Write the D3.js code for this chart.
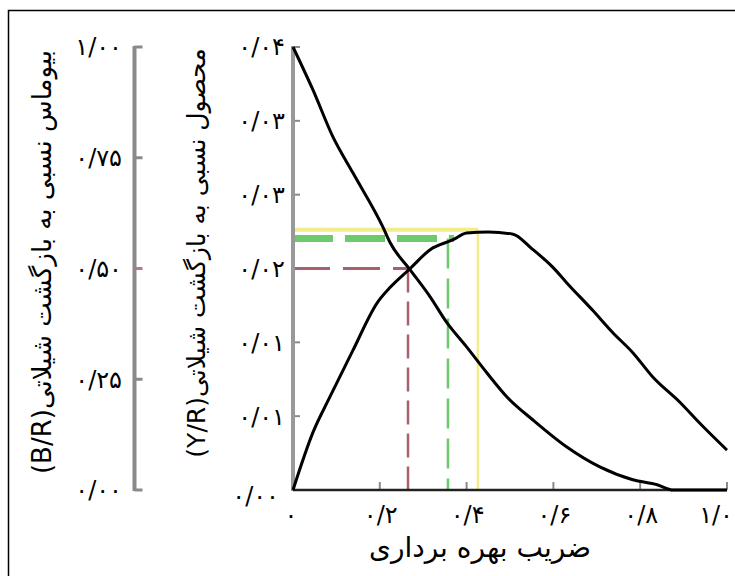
<!DOCTYPE html>
<html>
<head>
<meta charset="utf-8">
<script src="https://cdn.jsdelivr.net/npm/d3@7"></script>
<style>
    body { margin: 0; background: #fff; }
    svg { display: block; }
</style>
</head>
<body>
<svg id="chart"></svg>
<script>
// relative yield curve (Y/R), right axis
const yrX = [0, 0.046, 0.085, 0.138, 0.194, 0.224, 0.27, 0.316, 0.369, 0.40, 0.45, 0.507, 0.55, 0.599, 0.631, 0.691, 0.737, 0.783, 0.829, 0.892, 0.938, 1.0];
const yrY = [0, 0.0052, 0.0084, 0.0126, 0.0169, 0.0183, 0.0200, 0.0217, 0.0226, 0.0232, 0.0233, 0.0231, 0.0218, 0.0201, 0.0187, 0.0162, 0.0142, 0.0124, 0.0102, 0.0079, 0.0060, 0.0036];

// relative biomass curve (B/R), left axis
const brX = [0, 0.046, 0.092, 0.138, 0.207, 0.224, 0.270, 0.316, 0.355, 0.40, 0.447, 0.493, 0.553, 0.631, 0.707, 0.783, 0.839, 0.876, 1.0];
const brY = [1.0, 0.903, 0.797, 0.716, 0.594, 0.558, 0.497, 0.436, 0.377, 0.323, 0.264, 0.210, 0.158, 0.097, 0.052, 0.023, 0.012, 0.0, 0.0];

// reference guides (exploitation rate, Y/R)
const guideNames = ["red", "green", "yellow"];
const guideX = [0.265, 0.357, 0.426];
const guideY = [0.020, 0.0227, 0.0235];

// tick labels
const leftTicks = [0, 0.25, 0.5, 0.75, 1];
const leftLabels = ["۰/۰۰", "۰/۲۵", "۰/۵۰", "۰/۷۵", "۱/۰۰"];
const rightTicks = [0, 1, 2, 3, 4, 5, 6].map(i => 0.04 * i / 6);
const rightLabels = ["۰/۰۰", "۰/۰۱", "۰/۰۱", "۰/۰۲", "۰/۰۳", "۰/۰۳", "۰/۰۴"];
const xTicks = [0, 0.2, 0.4, 0.6, 0.8, 1.0];
const xLabels = ["۰", "۰/۲", "۰/۴", "۰/۶", "۰/۸", "۱/۰"];

const xTitle = "ضریب بهره برداری";
const leftTitle = "بیوماس نسبی به بازگشت شیلاتی(B/R)";
const rightTitle = "محصول نسبی به بازگشت شیلاتی(Y/R)";

const width = 735;
const height = 576;
const fontFam = "'DejaVu Sans', sans-serif";

const svg = d3.select("#chart")
    .attr("width", width)
    .attr("height", height)
    .attr("font-family", fontFam);

const x = d3.scaleLinear().domain([0, 1]).range([293, 727]);
const yR = d3.scaleLinear().domain([0, 0.04]).range([490, 47]);
const yB = d3.scaleLinear().domain([0, 1]).range([490, 47]);

// frame
svg.append("rect")
    .attr("x", 8.5).attr("y", 10.5)
    .attr("width", 740).attr("height", 580)
    .attr("fill", "none")
    .attr("stroke", "#000")
    .attr("stroke-width", 1.5);

// left axis (B/R)
const leftX = 134.5;
svg.append("line")
    .attr("x1", leftX).attr("x2", leftX)
    .attr("y1", yB(1) - 1).attr("y2", yB(0) + 1)
    .attr("stroke", "#8a8a8a").attr("stroke-width", 4);

svg.selectAll(".ltick")
    .data(leftTicks)
    .enter().append("line")
    .attr("x1", leftX).attr("x2", leftX + 8)
    .attr("y1", d => yB(d)).attr("y2", d => yB(d))
    .attr("stroke", d => d === 0.5 ? "#b77a86" : "#8a8a8a")
    .attr("stroke-width", 3);

svg.selectAll(".llabel")
    .data(leftTicks)
    .enter().append("text")
    .attr("x", 122)
    .attr("y", d => yB(d))
    .attr("dy", "0.35em")
    .attr("text-anchor", "end")
    .attr("direction", "ltr")
    .attr("font-size", 24)
    .attr("letter-spacing", 6)
    .text((d, i) => leftLabels[i]);

// right axis (Y/R)
const rightX = 293;
svg.selectAll(".rtick")
    .data(rightTicks)
    .enter().append("line")
    .attr("x1", rightX).attr("x2", rightX + 7)
    .attr("y1", d => yR(d)).attr("y2", d => yR(d))
    .attr("stroke", "#8a8a8a")
    .attr("stroke-width", 2);

svg.selectAll(".rlabel")
    .data(rightTicks)
    .enter().append("text")
    .attr("x", (d, i) => i === 0 ? 279 : 285)
    .attr("y", (d, i) => yR(d) + (i === 0 ? 6 : 0))
    .attr("dy", "0.35em")
    .attr("text-anchor", "end")
    .attr("direction", "ltr")
    .attr("font-size", 24)
    .attr("letter-spacing", 6)
    .text((d, i) => rightLabels[i]);

// x axis
svg.selectAll(".xtick")
    .data(xTicks.slice(1))
    .enter().append("line")
    .attr("x1", d => x(d)).attr("x2", d => x(d))
    .attr("y1", yR(0)).attr("y2", yR(0) - 8)
    .attr("stroke", "#8a8a8a")
    .attr("stroke-width", 2);

svg.selectAll(".xlabel")
    .data(xTicks)
    .enter().append("text")
    .attr("x", (d, i) => i === 0 ? 291 : i === xTicks.length - 1 ? 733 : x(d) + 1)
    .attr("y", 523)
    .attr("text-anchor", (d, i) => i === xTicks.length - 1 ? "end" : "middle")
    .attr("direction", "ltr")
    .attr("font-size", 24)
    .attr("letter-spacing", (d, i) => i === xTicks.length - 1 ? 3 : 5)
    .text((d, i) => xLabels[i]);

// guides
const guideColor = {red: "#a8606c", green: "#6cc96c", yellow: "#f1ec8c"};
const guideHW = {red: 3, green: 7, yellow: 4};
const guideHDash = {red: "37,13", green: "40,12", yellow: null};
const guideVDash = {red: "24,9", green: "30,10", yellow: null};

guideNames.forEach((g, i) => {
    svg.append("line")
        .attr("x1", x(0)).attr("x2", x(guideX[i]) + (g === "green" ? 6 : 0))
        .attr("y1", yR(guideY[i])).attr("y2", yR(guideY[i]))
        .attr("stroke", guideColor[g])
        .attr("stroke-width", guideHW[g])
        .attr("stroke-dasharray", guideHDash[g]);
    svg.append("line")
        .attr("x1", x(guideX[i])).attr("x2", x(guideX[i]))
        .attr("y1", yR(guideY[i])).attr("y2", yR(0))
        .attr("stroke", guideColor[g])
        .attr("stroke-width", 2.5)
        .attr("stroke-dasharray", guideVDash[g]);
});

// right axis line on top of guides
svg.append("line")
    .attr("x1", rightX).attr("x2", rightX)
    .attr("y1", yR(0.04) - 1).attr("y2", yR(0) + 1)
    .attr("stroke", "#999").attr("stroke-width", 4);

// x axis line
svg.append("line")
    .attr("x1", x(0)).attr("x2", x(1))
    .attr("y1", yR(0)).attr("y2", yR(0))
    .attr("stroke", "#222").attr("stroke-width", 2.5);

// curves
const lineYR = d3.line()
    .x((d, i) => x(yrX[i]))
    .y(d => yR(d))
    .curve(d3.curveMonotoneX);

const lineBR = d3.line()
    .x((d, i) => x(brX[i]))
    .y(d => yB(d))
    .curve(d3.curveMonotoneX);

svg.append("path")
    .attr("d", lineYR(yrY))
    .attr("fill", "none")
    .attr("stroke", "#000")
    .attr("stroke-width", 3);

svg.append("path")
    .attr("d", lineBR(brY))
    .attr("fill", "none")
    .attr("stroke", "#000")
    .attr("stroke-width", 3);

// titles
svg.append("text")
    .attr("x", 480).attr("y", 557)
    .attr("text-anchor", "middle")
    .attr("direction", "rtl")
    .attr("font-size", 28)
    .text(xTitle);

svg.append("text")
    .attr("transform", "translate(42,262) rotate(-90)")
    .attr("dy", "0.35em")
    .attr("text-anchor", "middle")
    .attr("direction", "rtl")
    .attr("font-size", 26)
    .text(leftTitle);

svg.append("text")
    .attr("transform", "translate(196,253) rotate(-90)")
    .attr("dy", "0.35em")
    .attr("text-anchor", "middle")
    .attr("direction", "rtl")
    .attr("font-size", 25)
    .text(rightTitle);
</script>
</body>
</html>
